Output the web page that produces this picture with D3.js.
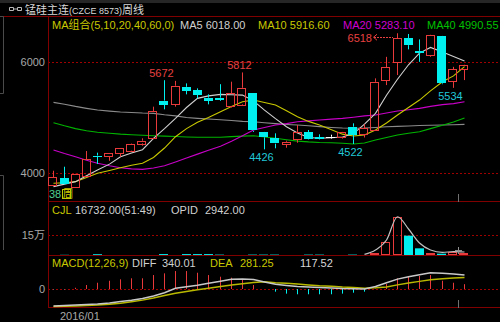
<!DOCTYPE html>
<html lang="zh">
<head>
<meta charset="utf-8">
<title>锰硅主连 周线</title>
<script src="https://cdn.jsdelivr.net/npm/d3@7"></script>
<style>
  html, body { margin: 0; padding: 0; background: #000; overflow: hidden; }
  svg { display: block; }
  text { font-family: "Liberation Sans", "Noto Sans CJK SC", sans-serif; font-size: 11px; }
</style>
</head>
<body>
<script>
// weekly bars, oldest first (38 weeks)
var open  = [3784, 3904, 3747, 3933, 4315, 4294, 4360, 4402, 4535, 4625,
             5303, 5243, 5553, 5495, 5357, 5357, 5195, 5237, 5435, 4733,
             4625, 4522, 4607, 4733, 4643, 4654, 4643, 4834, 4690, 4774,
             5661, 5985, 6425, 6201, 6124, 6466, 5643, 5867];
var high  = [4041, 4113, 3985, 4396, 4366, 4360, 4450, 4530, 4625, 5195,
             5672, 5660, 5615, 5525, 5417, 5600, 5645, 5812, 5440, 4740,
             4715, 4582, 4865, 4775, 4697, 4690, 4740, 4895, 4877, 5705,
             6093, 6518, 6505, 6407, 6490, 6470, 5913, 5950];
var low   = [3766, 3790, 3740, 3925, 4162, 4220, 4294, 4395, 4492, 4610,
             5147, 5195, 5417, 5345, 5237, 5300, 5180, 5220, 4740, 4426,
             4445, 4456, 4545, 4600, 4605, 4620, 4620, 4522, 4640, 4770,
             5584, 5765, 6227, 6003, 6094, 5600, 5534, 5674];
var close = [3928, 3798, 3977, 4247, 4300, 4355, 4445, 4522, 4582, 5117,
             5225, 5572, 5481, 5405, 5297, 5315, 5436, 5535, 4760, 4643,
             4528, 4563, 4733, 4607, 4613, 4654, 4733, 4684, 4805, 5643,
             5903, 6425, 6304, 6165, 6484, 5615, 5867, 5944];

// moving averages
var ma5  = [3754, 3800, 3844, 3950, 4054, 4160, 4293, 4360, 4420, 4625,
            4800, 4985, 5180, 5345, 5390, 5417, 5410, 5404, 5300, 5134,
            4980, 4833, 4720, 4640, 4625, 4635, 4650, 4710, 4880, 5074,
            5400, 5690, 5950, 6160, 6263, 6180, 6100, 6018];
var ma10 = [3814, 3825, 3844, 3920, 3994, 4045, 4096, 4140, 4175, 4280,
            4450, 4654, 4800, 4913, 5000, 5104, 5200, 5284, 5314, 5270,
            5224, 5120, 5014, 4930, 4864, 4780, 4700, 4666, 4684, 4774,
            4900, 5044, 5180, 5314, 5480, 5643, 5750, 5917];
var ma20 = [4414, 4350, 4293, 4230, 4175, 4130, 4096, 4075, 4066, 4090,
            4130, 4200, 4270, 4340, 4410, 4480, 4570, 4670, 4774, 4820,
            4864, 4890, 4924, 4940, 4955, 4970, 4984, 5005, 5030, 5044,
            5080, 5116, 5140, 5164, 5200, 5232, 5250, 5283];
var ma40 = [4906, 4850, 4800, 4760, 4733, 4715, 4700, 4690, 4680, 4672,
            4665, 4658, 4650, 4645, 4643, 4645, 4655, 4665, 4672, 4650,
            4625, 4600, 4575, 4560, 4550, 4545, 4535, 4522, 4540, 4594,
            4640, 4684, 4715, 4743, 4800, 4860, 4920, 4990];
var ma60 = [5273, 5240, 5200, 5165, 5134, 5115, 5100, 5090, 5080, 5075,
            5050, 5030, 5000, 4985, 4972, 4960, 4945, 4930, 4923, 4905,
            4890, 4875, 4864, 4850, 4835, 4820, 4810, 4805, 4810, 4820,
            4833, 4840, 4848, 4855, 4860, 4864, 4870, 4877];

// volume (CJL) and the smooth curve drawn over it
var vol  = [1500, 1500, 2000, 6000, 6000, 3000, 3000, 3000, 3000, 7000,
            7000, 7000, 7000, 7000, 7000, 3000, 3000, 3000, 3000, 3000,
            3000, 3000, 3000, 3000, 3000, 3000, 3000, 3000, 4000, 12750,
            95000, 283000, 145000, 50000, 17000, 10000, 22000, 16732];
var volCurve = [null, null, null, null, null, null, null, null, null, null,
                null, null, null, null, null, null, null, null, null, null,
                null, null, null, null, null, null, null, null, 5000, 37500,
                112500, 287000, 195000, 90000, 37500, 20000, 25000, 22500];

// MACD(12,26,9)
var diff = [-411, -400, -390, -375, -365, -340, -305, -274, -230, -170,
            -90, 17, 56, 90, 140, 190, 235, 245, 230, 170,
            114, 85, 60, 50, 38, 25, 12, 5, 2, 60,
            150, 240, 300, 345, 395, 380, 363, 340.01];
var dea  = [-428, -420, -412, -400, -387, -370, -345, -310, -270, -220,
            -160, -105, -60, -20, 20, 60, 97, 130, 160, 175,
            153, 137, 121, 100, 80, 65, 48, 38, 20, 30,
            50, 100, 145, 185, 225, 250, 265, 281.25];
var macd = [-10, -10, 30, 97, 152, 200, 235, 260, 260, 339,
            380, 436, 436, 395, 339, 298, 274, 235, 97, 0,
            -65, -113, -128, -128, -128, -128, -113, -90, -65, 10,
            121, 260, 315, 315, 339, 200, 152, 117.52];

var priceTicks = [4000, 6000];

var w = 500, h = 322;
var red = "#e83a3a", cyan = "#00f0f0", border = "#800000", grid = "#a00000";

var svg = d3.select("body").append("svg").attr("width", w).attr("height", h);

svg.append("rect").attr("width", w).attr("height", h).attr("fill", "#000");
svg.append("rect").attr("width", w).attr("height", 3).attr("fill", "#262626");

var x = d3.scaleBand().domain(d3.range(open.length))
          .range([47.45, 469.25]).paddingInner(0.18).paddingOuter(0.09);
function cx(i) { return Math.round(x(i) + x.bandwidth() / 2) + 0.5; }

var y = d3.scaleLinear().domain([4000, 6000]).range([173, 62]);
var yv = d3.scaleLinear().domain([0, 150000]).range([255, 235]);
var ym = d3.scaleLinear().domain([0, 340]).range([289, 275]);

// dotted grid lines
var grids = priceTicks.map(function(d) { return y(d); }).concat([yv(150000), ym(0)]);
svg.selectAll(".grid").data(grids).enter().append("line")
   .attr("x1", 48).attr("x2", w)
   .attr("y1", function(d) { return Math.round(d) + 0.5; })
   .attr("y2", function(d) { return Math.round(d) + 0.5; })
   .attr("stroke", grid).attr("stroke-dasharray", "2,2");

// panel borders
svg.append("line").attr("x1", 0).attr("x2", w).attr("y1", 16.5).attr("y2", 16.5).attr("stroke", border);
[201.5, 255.5, 307.5].forEach(function(yy) {
  svg.append("line").attr("x1", 48).attr("x2", w).attr("y1", yy).attr("y2", yy).attr("stroke", border);
});
svg.append("line").attr("x1", 48.5).attr("x2", 48.5).attr("y1", 16).attr("y2", 308).attr("stroke", border);

// left gray brackets
svg.append("path").attr("d", "M0,16.5H3.5V93.5H0").attr("fill", "none").attr("stroke", "#4a4a4a");
svg.append("path").attr("d", "M0,175.5H3.5V250").attr("fill", "none").attr("stroke", "#4a4a4a");

// axis labels
var axisLabels = [
  {t: "6000", y: y(6000)}, {t: "4000", y: y(4000)},
  {t: "15万", y: yv(150000)}, {t: "0", y: ym(0)}
];
svg.selectAll(".alab").data(axisLabels).enter().append("text")
   .attr("x", 45).attr("y", function(d) { return d.y + 4; })
   .attr("text-anchor", "end").attr("fill", "#a8a8a8")
   .text(function(d) { return d.t; });

// title
svg.append("path").attr("d", "M9.5,7.5h4v3h-4zM17.5,7.5h4v3h-4zM13.5,9h4")
   .attr("fill", "none").attr("stroke", "#b8b8b8");
var title = svg.append("text").attr("x", 25).attr("y", 13.5).attr("fill", "#d8d8d8");
title.append("tspan").text("锰硅主连");
title.append("tspan").attr("font-size", "9px").text("(CZCE 8573)");
title.append("tspan").text("周线");

// moving average lines
var line = d3.line().x(function(d, i) { return cx(i); }).y(function(d) { return y(d); });
var maSeries = [
  {v: ma60, c: "#8a8a8a"}, {v: ma40, c: "#00b400"}, {v: ma20, c: "#c800c8"},
  {v: ma10, c: "#c8c800"}, {v: ma5, c: "#d0d0d0"}
];
svg.selectAll(".ma").data(maSeries).enter().append("path")
   .attr("d", function(d) { return line(d.v); })
   .attr("fill", "none").attr("stroke", function(d) { return d.c; }).attr("stroke-width", 1.1);

// candles
var bars = d3.range(open.length).map(function(i) {
  return {i: i, o: open[i], h: high[i], l: low[i], c: close[i]};
});
function candleColor(d) { return d.c > d.o ? red : (d.c < d.o ? cyan : "#ffffff"); }

var candle = svg.selectAll(".candle").data(bars).enter().append("g");
candle.append("line")
   .attr("x1", function(d) { return cx(d.i); }).attr("x2", function(d) { return cx(d.i); })
   .attr("y1", function(d) { return y(d.h); })
   .attr("y2", function(d) { return y(Math.max(d.o, d.c)); })
   .attr("stroke", candleColor);
candle.append("line")
   .attr("x1", function(d) { return cx(d.i); }).attr("x2", function(d) { return cx(d.i); })
   .attr("y1", function(d) { return y(Math.min(d.o, d.c)); })
   .attr("y2", function(d) { return y(d.l); })
   .attr("stroke", candleColor);
candle.append("rect")
   .attr("x", function(d) { return Math.round(x(d.i)) + (d.c > d.o ? 0.5 : 0); })
   .attr("width", function(d) { return d.c > d.o ? 8 : 9; })
   .attr("y", function(d) {
     var t = y(Math.max(d.o, d.c));
     return d.c > d.o ? Math.round(t) + 0.5 : Math.round(t);
   })
   .attr("height", function(d) {
     var hh = Math.round(y(Math.min(d.o, d.c)) - y(Math.max(d.o, d.c)));
     return Math.max(hh, 1);
   })
   .attr("fill", function(d) { return d.c > d.o ? "none" : candleColor(d); })
   .attr("stroke", function(d) { return d.c > d.o ? red : "none"; });

// high / low labels
var marks = [
  {i: 10, v: 5672, hi: true}, {i: 17, v: 5812, hi: true},
  {i: 19, v: 4426, hi: false}, {i: 27, v: 4522, hi: false}, {i: 36, v: 5534, hi: false}
];
svg.selectAll(".mk").data(marks).enter().append("text")
   .attr("x", function(d) { return cx(d.i) - 3; })
   .attr("y", function(d) { return d.hi ? y(d.v) - 3 : y(d.v) + 12; })
   .attr("text-anchor", "middle")
   .attr("fill", function(d) { return d.hi ? "#e84040" : "#20c8d8"; })
   .attr("font-size", "12px")
   .text(function(d) { return d.v; });

// 6518 with arrow
var hiY = y(6518) + 4;
svg.append("text").attr("x", 372).attr("y", hiY + 4.5).attr("text-anchor", "end")
   .attr("fill", "#e84040").attr("font-size", "12px").text("6518");
svg.append("path").attr("d", "M377," + (hiY - 3) + "L373.5," + hiY + "L377," + (hiY + 3))
   .attr("fill", "none").attr("stroke", "#e84040");
svg.append("line").attr("x1", 374).attr("x2", Math.round(x(31)))
   .attr("y1", Math.round(hiY) + 0.5).attr("y2", Math.round(hiY) + 0.5)
   .attr("stroke", "#e84040").attr("stroke-dasharray", "2,1");

// header rows
function header(items, yy) {
  svg.selectAll(null).data(items).enter().append("text")
     .attr("x", function(d) { return d.x; }).attr("y", yy)
     .attr("fill", function(d) { return d.c; })
     .text(function(d) { return d.t; });
}
header([
  {x: 52, t: "MA组合(5,10,20,40,60,0)", c: "#c8c800"},
  {x: 180, t: "MA5 6018.00", c: "#d0d0d0"},
  {x: 258, t: "MA10 5916.60", c: "#c8c800"},
  {x: 343, t: "MA20 5283.10", c: "#d000d0"},
  {x: 427, t: "MA40 4990.55", c: "#00c000"}
], 28.5);

// week count
svg.append("text").attr("x", 49).attr("y", 198).attr("fill", "#50d090").attr("font-size", "10px").text("38");
svg.append("rect").attr("x", 62.5).attr("y", 189.5).attr("width", 8).attr("height", 9)
   .attr("fill", "none").attr("stroke", "#c8c800");
svg.append("text").attr("x", 62.5).attr("y", 198).attr("fill", "#c8c800").attr("font-size", "8px").text("周");

// volume bars
svg.selectAll(".vb").data(bars).enter().append("rect")
   .attr("x", function(d) { return Math.round(x(d.i)) + (d.c >= d.o ? 0.5 : 0); })
   .attr("width", function(d) { return d.c >= d.o ? 8 : 9; })
   .attr("y", function(d) { return d.c >= d.o ? Math.round(yv(vol[d.i])) + 0.5 : yv(vol[d.i]); })
   .attr("height", function(d) { return d.c >= d.o ? Math.max(0, 254.5 - Math.round(yv(vol[d.i])) - 0.5) : 255 - yv(vol[d.i]); })
   .attr("fill", function(d) { return d.c >= d.o ? "none" : cyan; })
   .attr("stroke", function(d) { return d.c >= d.o ? red : "none"; })
   .attr("stroke-opacity", function(d) { return vol[d.i] < 8000 ? 0.5 : 1; });

var vline = d3.line().defined(function(d) { return d != null; })
   .x(function(d, i) { return cx(i); }).y(function(d) { return yv(d); })
   .curve(d3.curveMonotoneX);
svg.append("path").attr("d", vline(volCurve)).attr("fill", "none")
   .attr("stroke", "#c0c0c0").attr("stroke-width", 1.2);

header([
  {x: 52, t: "CJL", c: "#c8c800"},
  {x: 75, t: "16732.00(51:49)", c: "#d0d0d0"},
  {x: 171, t: "OPID", c: "#d0d0d0"},
  {x: 205, t: "2942.00", c: "#d0d0d0"}
], 214);

// MACD histogram
svg.selectAll(".mb").data(macd).enter().append("line")
   .attr("x1", function(d, i) { return cx(i); }).attr("x2", function(d, i) { return cx(i); })
   .attr("y1", ym(0)).attr("y2", function(d) { return ym(d); })
   .attr("stroke", function(d) { return d >= 0 ? red : cyan; });

var mline = d3.line().x(function(d, i) { return cx(i); }).y(function(d) { return ym(d); });
svg.append("path").attr("d", mline(dea)).attr("fill", "none").attr("stroke", "#b8b800").attr("stroke-width", 1.5);
svg.append("path").attr("d", mline(diff)).attr("fill", "none").attr("stroke", "#c8c8c8").attr("stroke-width", 1.5);

header([
  {x: 52, t: "MACD(12,26,9)", c: "#c8c800"},
  {x: 132, t: "DIFF", c: "#d0d0d0"},
  {x: 162, t: diff[37].toFixed(2), c: "#d0d0d0"},
  {x: 210, t: "DEA", c: "#c8c800"},
  {x: 240, t: dea[37].toFixed(2), c: "#c8c800"},
  {x: 300, t: macd[37].toFixed(2), c: "#d8d8d8"}
], 266.5);

// cursor ticks
[[194, 202], [300, 308]].forEach(function(p) {
  svg.append("line").attr("x1", 458.5).attr("x2", 458.5).attr("y1", p[0]).attr("y2", p[1]).attr("stroke", "#707070");
});
svg.append("path").attr("d", "M458.5,247V254M455,250.5H462").attr("stroke", "#909090");

// date label
svg.append("text").attr("x", 60).attr("y", 320).attr("fill", "#a8a8a8").text("2016/01");
</script>
</body>
</html>
